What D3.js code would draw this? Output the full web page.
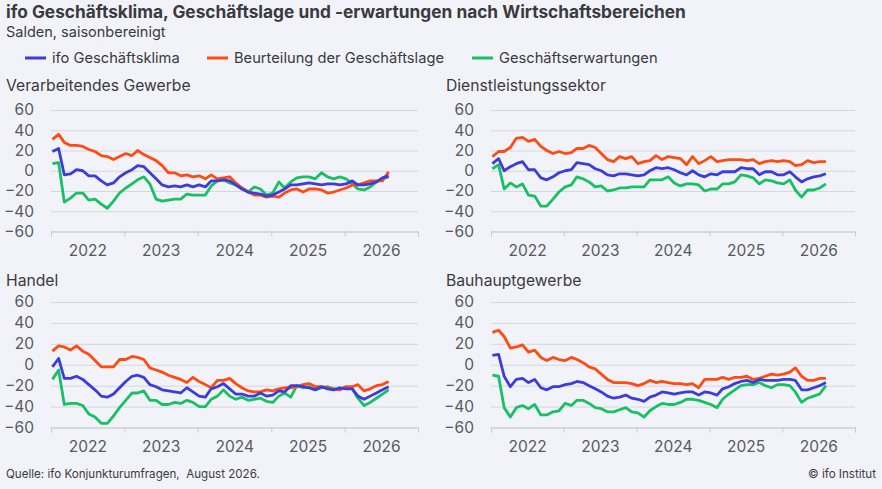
<!DOCTYPE html>
<html>
<head>
<meta charset="utf-8">
<script src="https://cdn.jsdelivr.net/npm/d3@7"></script>
<style>
  body { margin: 0; background: #f2f3f9; }
  svg { display: block; font-family: Inter, "Noto Sans", sans-serif; }
</style>
</head>
<body>
<div class="chart"></div>
<script>
// monthly values, Jan 2022 .. Aug 2026
const months = d3.range(56).map((i) => new Date(2022, i, 8))
const years = [2022, 2023, 2024, 2025, 2026]
const yTicks = [-60, -40, -20, 0, 20, 40, 60]

const seriesNames = ['ifo Geschäftsklima', 'Beurteilung der Geschäftslage', 'Geschäftserwartungen']
const seriesColors = ['#3b3bdf', '#ff4b12', '#17c062']

const sectors = ['Verarbeitendes Gewerbe', 'Dienstleistungssektor', 'Handel', 'Bauhauptgewerbe']

const industryKlima = [19, 22, -4, -3, 1, 0, -5, -5, -10, -14, -12, -6, -2, 1, 5, 4, -2, -8, -14, -16, -15, -16, -14, -16, -14, -16, -10, -10, -9, -10, -14, -18, -21, -22, -23, -25, -24, -21, -18, -14, -14, -13, -12, -13, -14, -13, -13, -14, -13, -10, -14, -14, -13, -11, -7, -5]
const industryLage = [31, 36, 28, 25, 25, 24, 21, 19, 15, 14, 11, 14, 17, 15, 20, 16, 13, 10, 5, -2, -2, -5, -4, -6, -5, -8, -4, -8, -7, -6, -12, -17, -21, -24, -24, -26, -25, -26, -22, -19, -18, -21, -18, -18, -19, -22, -21, -19, -17, -14, -14, -12, -10, -10, -10, -1]
const industryErw = [7, 8, -31, -27, -22, -22, -29, -28, -33, -37, -30, -22, -17, -13, -9, -6, -13, -28, -30, -29, -28, -28, -23, -24, -24, -24, -15, -10, -9, -12, -14, -17, -21, -16, -18, -24, -22, -11, -17, -11, -7, -6, -6, -8, -2, -6, -8, -6, -8, -13, -18, -19, -16, -11, -8, -6]

const servicesKlima = [7, 12, 0, 4, 7, 9, 1, 1, -7, -9, -6, -2, 0, 1, 8, 7, 6, 2, 0, -4, -5, -3, -3, -4, -5, -4, 0, 3, 2, 3, 1, -2, -4, 0, -4, -6, -3, -4, -1, -1, -1, 3, 2, 2, -4, -1, -1, -4, -4, -1, -6, -11, -8, -6, -5, -3]
const servicesLage = [14, 19, 19, 23, 32, 33, 29, 31, 24, 20, 17, 19, 17, 18, 22, 22, 25, 23, 17, 11, 9, 14, 12, 14, 7, 9, 10, 15, 11, 14, 13, 12, 6, 14, 7, 10, 14, 9, 10, 11, 11, 11, 10, 11, 7, 9, 10, 9, 10, 9, 5, 6, 10, 8, 9, 9]
const servicesErw = [2, 6, -18, -12, -16, -13, -24, -25, -35, -35, -28, -21, -16, -14, -6, -8, -11, -16, -15, -20, -19, -17, -17, -16, -16, -16, -9, -9, -9, -6, -12, -15, -13, -13, -14, -20, -18, -18, -13, -13, -11, -4, -5, -7, -13, -9, -10, -12, -13, -9, -19, -26, -19, -19, -17, -13]

const tradeKlima = [-2, 6, -13, -13, -11, -14, -19, -24, -30, -31, -28, -22, -16, -11, -10, -12, -19, -21, -24, -25, -26, -27, -22, -26, -30, -31, -23, -21, -18, -23, -28, -28, -30, -30, -27, -30, -29, -25, -26, -20, -20, -21, -22, -24, -21, -23, -24, -22, -23, -23, -30, -33, -30, -27, -24, -21]
const tradeLage = [13, 18, 17, 14, 18, 13, 10, 4, -2, -2, -2, 5, 5, 8, 7, 5, -3, -5, -7, -10, -12, -14, -17, -12, -16, -19, -22, -15, -15, -13, -18, -22, -25, -26, -26, -24, -25, -23, -22, -22, -21, -19, -18, -21, -21, -22, -23, -24, -21, -21, -19, -25, -23, -20, -19, -16]
const tradeErw = [-14, -5, -38, -37, -37, -39, -47, -50, -56, -56, -49, -41, -34, -27, -27, -25, -34, -34, -38, -38, -36, -37, -34, -36, -40, -40, -33, -30, -24, -30, -33, -31, -34, -33, -32, -35, -36, -30, -27, -31, -20, -22, -21, -24, -22, -21, -23, -24, -21, -23, -32, -39, -36, -32, -28, -24]

const constructionKlima = [9, 10, -11, -21, -14, -13, -17, -14, -22, -24, -21, -21, -19, -18, -16, -17, -20, -23, -26, -30, -32, -31, -29, -32, -33, -35, -31, -29, -26, -27, -28, -27, -26, -26, -29, -26, -27, -29, -23, -21, -18, -16, -15, -17, -14, -15, -15, -15, -14, -14, -15, -24, -24, -22, -20, -17]
const constructionLage = [31, 33, 27, 16, 17, 19, 12, 14, 7, 4, 7, 5, 4, 7, 5, 2, -2, -4, -9, -14, -17, -17, -17, -18, -20, -18, -15, -17, -16, -17, -18, -18, -19, -18, -22, -14, -14, -14, -12, -14, -12, -12, -11, -14, -13, -11, -9, -10, -9, -7, -3, -11, -15, -15, -13, -13]
const constructionErw = [-10, -11, -41, -50, -41, -39, -42, -38, -48, -48, -45, -44, -37, -39, -34, -34, -37, -41, -42, -45, -45, -43, -41, -45, -46, -50, -44, -40, -37, -38, -38, -36, -33, -33, -34, -36, -38, -41, -33, -28, -24, -20, -19, -19, -17, -20, -22, -19, -19, -20, -26, -36, -32, -30, -28, -20]

const panelSeries = [
  [industryKlima, industryLage, industryErw],
  [servicesKlima, servicesLage, servicesErw],
  [tradeKlima, tradeLage, tradeErw],
  [constructionKlima, constructionLage, constructionErw]
]

const width = 882
const height = 489
const textColor = '#3a3a40'

const panels = [
  { left: 51, right: 418, top: 110, bottom: 231.5, titleX: 6, titleY: 91 },
  { left: 491, right: 855, top: 110, bottom: 231.5, titleX: 446, titleY: 91 },
  { left: 51, right: 418, top: 302, bottom: 427.5, titleX: 6, titleY: 286 },
  { left: 491, right: 855, top: 302, bottom: 427.5, titleX: 446, titleY: 286 }
]

const svg = d3.select('.chart')
  .append('svg')
  .attr('width', width)
  .attr('height', height)

svg.append('rect').attr('width', width).attr('height', height).attr('fill', '#f2f3f9')

svg.append('text')
  .attr('x', 6).attr('y', 18)
  .attr('font-size', 17.3).attr('font-weight', 700)
  .attr('fill', textColor)
  .text('ifo Geschäftsklima, Geschäftslage und -erwartungen nach Wirtschaftsbereichen')

svg.append('text')
  .attr('x', 6).attr('y', 37)
  .attr('font-size', 14.5)
  .attr('fill', textColor)
  .text('Salden, saisonbereinigt')

// legend
const legendX = [25, 207, 472]
const legend = svg.append('g').selectAll('g')
  .data(seriesNames)
  .enter()
  .append('g')
  .attr('transform', (d, i) => `translate(${legendX[i]},58)`)

legend.append('line')
  .attr('x1', 0).attr('x2', 21)
  .attr('stroke', (d, i) => seriesColors[i])
  .attr('stroke-width', 3)

legend.append('text')
  .attr('x', 27).attr('y', 5)
  .attr('font-size', 14.7)
  .attr('fill', textColor)
  .text((d) => d)

panels.forEach((p, k) => {
  const g = svg.append('g')

  g.append('text')
    .attr('x', p.titleX).attr('y', p.titleY)
    .attr('font-size', 15.7)
    .attr('fill', textColor)
    .text(sectors[k])

  const x = d3.scaleTime()
    .domain([new Date(2022, 0, 1), new Date(2027, 0, 1)])
    .range([p.left, p.right])

  const y = d3.scaleLinear()
    .domain([-60, 60])
    .range([p.bottom, p.top])

  const yAxis = g.append('g')
    .attr('transform', `translate(${p.left},0)`)
    .call(d3.axisLeft(y).tickValues(yTicks).tickSize(-(p.right - p.left)).tickPadding(17))
  yAxis.select('.domain').remove()
  yAxis.selectAll('line').attr('stroke', '#d6d7de').attr('stroke-width', 1)
  yAxis.selectAll('text')
    .attr('font-size', 15.5)
    .attr('font-family', 'Inter, sans-serif')
    .attr('fill', '#555a60')

  const xTicks = g.append('g')
    .attr('transform', `translate(0,${p.bottom})`)
    .call(d3.axisBottom(x)
      .tickValues(years.concat([2027]).map((yr) => new Date(yr, 0, 1)))
      .tickSize(5)
      .tickFormat(() => ''))
  xTicks.select('.domain').attr('stroke', '#c9cad2')
  xTicks.selectAll('line').attr('stroke', '#c9cad2')

  const xLabels = g.append('g')
    .attr('transform', `translate(0,${p.bottom})`)
    .call(d3.axisBottom(x)
      .tickValues(years.map((yr) => new Date(yr, 6, 1)))
      .tickSize(0)
      .tickPadding(13)
      .tickFormat(d3.timeFormat('%Y')))
  xLabels.select('.domain').remove()
  xLabels.selectAll('text')
    .attr('font-size', 15.5)
    .attr('font-family', 'Inter, sans-serif')
    .attr('fill', '#555a60')

  const line = d3.line()
    .x((d, i) => x(months[i]))
    .y((d) => y(d))

  // draw expectations first, then situation, then climate on top
  const order = [2, 1, 0]
  order.forEach((s) => {
    g.append('path')
      .datum(panelSeries[k][s])
      .attr('d', line)
      .attr('fill', 'none')
      .attr('stroke', seriesColors[s])
      .attr('stroke-width', 2.8)
      .attr('stroke-linejoin', 'round')
  })
})

svg.append('text')
  .attr('x', 6).attr('y', 478)
  .attr('font-size', 11.6)
  .attr('fill', textColor)
  .text('Quelle: ifo Konjunkturumfragen,  August 2026.')
  .style('white-space', 'pre')

svg.append('text')
  .attr('x', 876).attr('y', 478)
  .attr('text-anchor', 'end')
  .attr('font-size', 11.6)
  .attr('fill', textColor)
  .text('© ifo Institut')
</script>
</body>
</html>
